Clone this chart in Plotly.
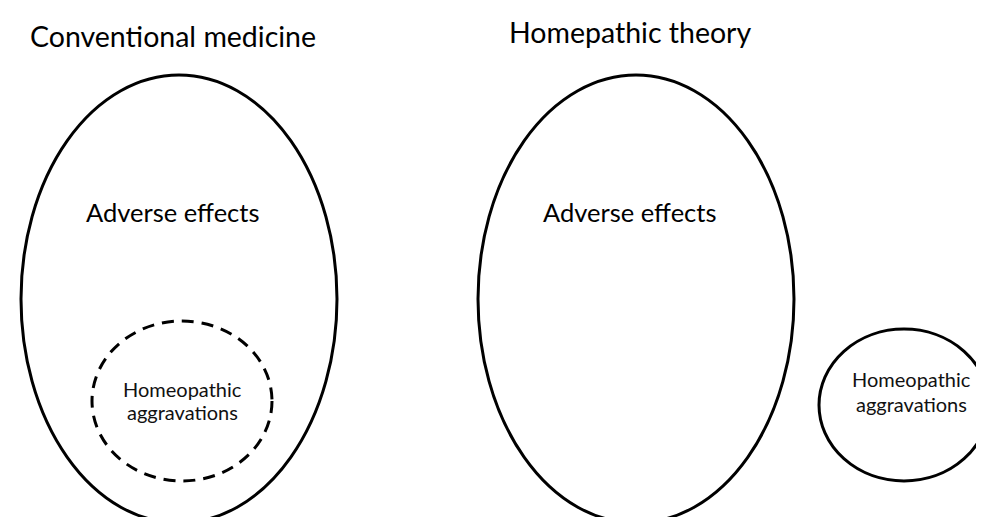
import plotly.graph_objects as go

W, H = 984, 517

# Titles
titles = ["Conventional medicine", "Homepathic theory"]
title_x = [165, 622]
title_y = [28, 24]

# Big ellipses (Adverse effects)
big_labels = ["Adverse effects", "Adverse effects"]
big_cx = [171, 628]
big_cy = [291, 291]
big_rx = [158, 158]
big_ry = [224, 224]
big_label_x = [164, 621]
big_label_y = [204, 204]

# Small circles (Homeopathic aggravations)
small_lines = ["Homeopathic", "aggravations"]
small_cx = [174, 896]
small_cy = [393, 397]
small_rx = [90, 85]
small_ry = [80, 76]
small_dash = ["12px,8px", "solid"]
small_label_x = [174, 903]
small_line1_y = [381, 371]
small_line2_y = [404, 396]

FONT = "Lato, 'Open Sans', sans-serif"

fig = go.Figure()
fig.add_trace(go.Scatter(x=[0, W], y=[0, H], mode="markers",
                         marker=dict(opacity=0), hoverinfo="skip", showlegend=False))

for cx, cy, rx, ry in zip(big_cx, big_cy, big_rx, big_ry):
    fig.add_shape(type="circle", xref="x", yref="y",
                  x0=cx - rx, x1=cx + rx, y0=cy - ry, y1=cy + ry,
                  line=dict(color="black", width=3), fillcolor="rgba(0,0,0,0)")

for cx, cy, rx, ry, d in zip(small_cx, small_cy, small_rx, small_ry, small_dash):
    fig.add_shape(type="circle", xref="x", yref="y",
                  x0=cx - rx, x1=cx + rx, y0=cy - ry, y1=cy + ry,
                  line=dict(color="black", width=3, dash=d), fillcolor="rgba(0,0,0,0)")

for t, x, y in zip(titles, title_x, title_y):
    fig.add_annotation(x=x, y=y, xref="x", yref="y", text=t, showarrow=False,
                       xanchor="center", yanchor="middle",
                       font=dict(family=FONT, size=28.5, color="black"))

for t, x, y in zip(big_labels, big_label_x, big_label_y):
    fig.add_annotation(x=x, y=y, xref="x", yref="y", text=t, showarrow=False,
                       xanchor="center", yanchor="middle",
                       font=dict(family=FONT, size=25.5, color="black"))

for x, y1, y2 in zip(small_label_x, small_line1_y, small_line2_y):
    for t, y in zip(small_lines, [y1, y2]):
        fig.add_annotation(x=x, y=y, xref="x", yref="y", text=t, showarrow=False,
                           xanchor="center", yanchor="middle",
                           font=dict(family=FONT, size=20, color="#111"))

fig.update_layout(
    width=W, height=H,
    margin=dict(l=0, r=0, t=0, b=0),
    paper_bgcolor="white", plot_bgcolor="white",
    xaxis=dict(range=[0, W], visible=False, fixedrange=True),
    yaxis=dict(range=[H, 0], visible=False, fixedrange=True),
    showlegend=False,
)

fig.write_html("out.html")
